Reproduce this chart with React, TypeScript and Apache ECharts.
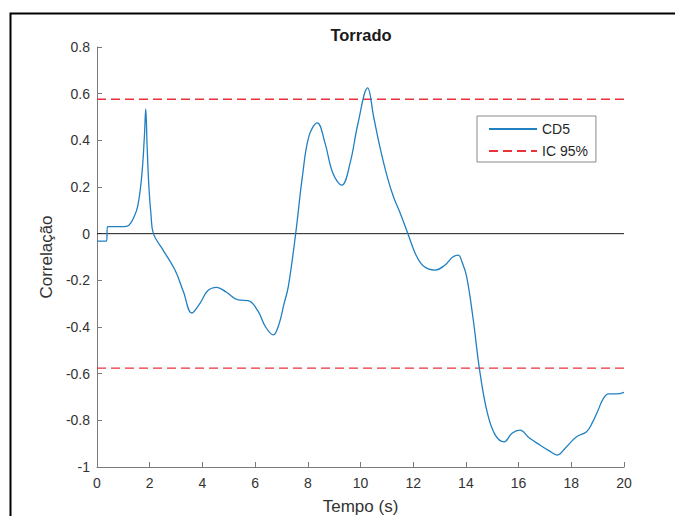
import { useEffect, useRef } from "react";
import * as echarts from "echarts";

// Cross-correlation of the CD5 signal over time (s)
const timeS = [
  0, 0.36, 0.4, 1.0, 1.2, 1.4, 1.55, 1.7, 1.8, 1.85, 1.9, 1.97, 2.05, 2.14, 2.45, 2.96,
  3.28, 3.6, 3.9, 4.2, 4.54, 4.9, 5.36, 5.74, 6.1, 6.4, 6.69, 6.9, 7.1, 7.26, 7.54, 7.8, 8.05,
  8.36, 8.65, 8.95, 9.29, 9.6, 9.9, 10.27, 10.5, 10.74, 11.0, 11.25, 11.5, 11.8, 12.1, 12.4,
  12.83, 13.2, 13.5, 13.71, 13.85, 14.03, 14.28, 14.51, 14.79, 15.1, 15.45, 15.75, 16.05, 16.4,
  16.81, 17.15, 17.47, 17.8, 18.2, 18.58, 18.8, 19.02, 19.2, 19.41, 19.72, 20,
];
const cd5 = [
  -0.032, -0.032, 0.03, 0.03, 0.035, 0.07, 0.12, 0.25, 0.42, 0.535, 0.38, 0.2, 0.08, 0.0, -0.06,
  -0.156, -0.249, -0.34, -0.3, -0.245, -0.23, -0.25, -0.284, -0.287, -0.33, -0.4, -0.434,
  -0.39, -0.3, -0.227, 0.0, 0.25, 0.42, 0.475, 0.39, 0.26, 0.208, 0.3, 0.47, 0.625, 0.5, 0.37,
  0.25, 0.158, 0.09, 0.0, -0.09, -0.14, -0.156, -0.135, -0.1, -0.092, -0.12, -0.185, -0.37,
  -0.576, -0.756, -0.86, -0.892, -0.855, -0.842, -0.875, -0.906, -0.93, -0.949, -0.915, -0.87,
  -0.849, -0.81, -0.756, -0.71, -0.687, -0.687, -0.68,
];
// 95% confidence bound
const icLimit = 0.576;
const xRange = [0, 20];
const yRange = [-1, 0.8];

const FONT = "'Liberation Sans', Arial, Helvetica, sans-serif";

export default function App() {
  const ref = useRef<HTMLDivElement>(null);

  useEffect(() => {
    if (!ref.current) return;
    const chart = echarts.init(ref.current, undefined, { renderer: "svg" });
    const axisColor = "#7a7a7a";
    const labelColor = "#333333";
    const red = "#e8333a";
    const blue = "#2080c2";

    chart.setOption({
      animation: false,
      backgroundColor: "#ffffff",
      title: {
        text: "Torrado",
        left: 361,
        top: 26,
        padding: 0,
        textAlign: "center",
        textStyle: { fontFamily: FONT, fontSize: 16.5, fontWeight: "bold", color: "#1a1a1a" },
      },
      legend: {
        data: ["CD5", "IC 95%"],
        orient: "vertical",
        left: 477,
        top: 116,
        itemWidth: 48,
        itemHeight: 14,
        itemGap: 8,
        padding: [6, 8, 4, 11],
        backgroundColor: "#ffffff",
        borderColor: "#8a8a8a",
        borderWidth: 1,
        itemStyle: { opacity: 0 },
        textStyle: { fontFamily: FONT, fontSize: 14, color: "#262626" },
      },
      grid: { left: 97, right: 51, top: 47, bottom: 49, outerBoundsMode: "none" },
      xAxis: {
        type: "value",
        min: xRange[0],
        max: xRange[1],
        interval: 2,
        name: "Tempo (s)",
        nameLocation: "middle",
        nameGap: 31,
        nameTextStyle: { fontFamily: FONT, fontSize: 17, color: labelColor },
        axisLine: { onZero: false, lineStyle: { color: axisColor, width: 1 } },
        axisTick: { inside: true, length: 5, lineStyle: { color: axisColor } },
        axisLabel: { fontFamily: FONT, fontSize: 14, color: labelColor, margin: 9 },
        splitLine: { show: false },
      },
      yAxis: {
        type: "value",
        min: yRange[0],
        max: yRange[1],
        interval: 0.2,
        name: "Correlação",
        nameLocation: "middle",
        nameGap: 41,
        nameTextStyle: { fontFamily: FONT, fontSize: 17, color: labelColor },
        axisLine: { show: true, onZero: false, lineStyle: { color: axisColor, width: 1 } },
        axisTick: { show: true, inside: true, length: 5, lineStyle: { color: axisColor } },
        axisLabel: {
          fontFamily: FONT,
          fontSize: 14,
          color: labelColor,
          margin: 7,
          formatter: (v: number) => String(Number(v.toFixed(1))),
        },
        splitLine: { show: false },
      },
      series: [
        {
          name: "zero",
          type: "line",
          data: [
            [xRange[0], 0],
            [xRange[1], 0],
          ],
          symbol: "none",
          lineStyle: { color: "#1a1a1a", width: 1 },
          silent: true,
        },
        {
          name: "IC 95%",
          type: "line",
          data: [
            [xRange[0], icLimit],
            [xRange[1], icLimit],
          ],
          symbol: "none",
          lineStyle: { color: red, width: 1.3, type: [9, 5] },
          itemStyle: { color: red },
        },
        {
          name: "IC 95%",
          type: "line",
          data: [
            [xRange[0], -icLimit],
            [xRange[1], -icLimit],
          ],
          symbol: "none",
          lineStyle: { color: red, width: 1.3, type: [9, 5] },
          itemStyle: { color: red },
        },
        {
          name: "CD5",
          type: "line",
          data: timeS.map((t, i) => [t, cd5[i]]),
          symbol: "none",
          smooth: 0.4,
          lineStyle: { color: blue, width: 1.3 },
          itemStyle: { color: blue },
          z: 5,
        },
      ],
      graphic: [
        {
          type: "rect",
          left: 8,
          top: 11,
          shape: { width: 720, height: 560 },
          style: { fill: "none", stroke: "#000000", lineWidth: 2 },
          silent: true,
        },
      ],
    });

    return () => chart.dispose();
  }, []);

  return (
    <div
      ref={ref}
      style={{ position: "fixed", left: 0, top: 0, width: 675, height: 516, background: "#fff" }}
    />
  );
}
